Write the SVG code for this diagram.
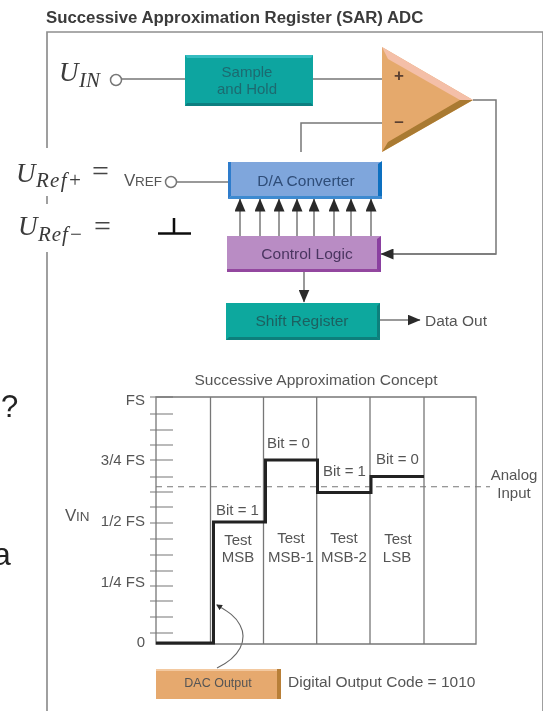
<svg xmlns="http://www.w3.org/2000/svg" width="546" height="711" viewBox="0 0 546 711">
<style>
text{font-family:"Liberation Sans",Arial,sans-serif;fill:#555;font-size:15px}
.t{text-anchor:middle}
.m{font-family:"Liberation Serif","Times New Roman",serif;font-style:italic;fill:#3a3a3a;font-size:27px}
.s{font-family:"Liberation Serif","Times New Roman",serif;font-style:italic;fill:#3a3a3a;font-size:21px}
.eq{font-family:"Liberation Serif",serif;fill:#444;font-size:30px}
.w{fill:none;stroke:#777;stroke-width:1.5}
.f{fill:none;stroke:#8f8f8f;stroke-width:1.7}
.g{fill:none;stroke:#777;stroke-width:1.3}
.k{fill:none;stroke:#222;stroke-width:3}
.tick{stroke:#777;stroke-width:1.2}
</style>
<defs>
<filter id="soft" x="0" y="0" width="100%" height="100%"><feGaussianBlur stdDeviation="0.45"/></filter>
<marker id="a" markerWidth="13" markerHeight="11" refX="12.500" refY="5.500" orient="auto" markerUnits="userSpaceOnUse"><path d="M0 0L13 5.500L0 11Z" fill="#2a2a2a"/></marker>
<marker id="b" markerWidth="6" markerHeight="6" refX="5" refY="3" orient="auto" markerUnits="userSpaceOnUse"><path d="M0 0L6 3L0 6Z" fill="#2a2a2a"/></marker>
</defs>
<rect width="546" height="711" fill="#fff"/>
<g filter="url(#soft)">
<text id="title" x="46" y="23" style="font-weight:bold;font-size:16.800px;fill:#3a3a3a">Successive Approximation Register (SAR) ADC</text>
<g id="frame"><path class="f" d="M47 148V32H543V711"/><path class="f" d="M47 196V204"/><path class="f" d="M47 252V711"/></g>
<g id="connectors">
<path class="w" d="M120 79H185M313 79H382M301 152V123H382M473 100H496V254H392"/>
<path class="w" d="M177 182H228"/>
<path class="w" d="M304 272V302" marker-end="url(#a)"/>
<path class="w" d="M380 320H420" marker-end="url(#a)"/>
<path class="w" d="M496 254H381" marker-end="url(#a)"/>
<path class="w" d="M240 236V199" marker-end="url(#a)"/><path class="w" d="M260 236V199" marker-end="url(#a)"/><path class="w" d="M279 236V199" marker-end="url(#a)"/><path class="w" d="M297 236V199" marker-end="url(#a)"/><path class="w" d="M314 236V199" marker-end="url(#a)"/><path class="w" d="M334 236V199" marker-end="url(#a)"/><path class="w" d="M351 236V199" marker-end="url(#a)"/><path class="w" d="M371 236V199" marker-end="url(#a)"/>
<path d="M217 668C240 657 248 640 240 625C235 615 225 610 217 605" fill="none" stroke="#666" stroke-width="1.1" marker-end="url(#b)"/>
</g>
<g id="uin"><circle cx="116" cy="80" r="5.500" fill="#fff" stroke="#777" stroke-width="1.5"/><text class="m" x="59" y="81">U</text><text class="s" x="79" y="87" textLength="21">IN</text></g>
<g id="sample"><rect x="185" y="55" width="128" height="51" fill="#0aa5a0"/><path d="M185 55h128l-2 3H187Z" fill="#35bcc0"/><path d="M185 106h128l-2-3H187Z" fill="#077f80"/><text class="t" x="247" y="77" style="fill:#1f6a70">Sample</text><text class="t" x="247" y="94" style="fill:#1f6a70">and Hold</text></g>
<g id="comparator"><path d="M382 47L473 100L382 152Z" fill="#e5a96c"/><path d="M382 47L473 100L460 100L388 59Z" fill="#f4bfa8"/><path d="M382 152L473 100L460 100L388 142Z" fill="#a97a30"/><text x="399" y="81" style="font-weight:bold;font-size:17px;fill:#5a4030" class="t">+</text><text x="399" y="127" style="font-weight:bold;font-size:17px;fill:#5a4030" class="t">–</text></g>
<g id="uref"><text class="m" x="16" y="182">U</text><text class="s" x="36" y="187" textLength="46">Ref+</text><text class="eq" x="92" y="181">=</text><text x="124" y="186" style="font-size:17px">V</text><text x="135" y="186" style="font-size:13.500px">REF</text><circle cx="171" cy="182" r="5.500" fill="#fff" stroke="#777" stroke-width="1.5"/></g>
<g id="urefm"><text class="m" x="18" y="235">U</text><text class="s" x="38" y="241" textLength="45">Ref−</text><text class="eq" x="94" y="236">=</text><path d="M158 233.500H191M174 233V218" stroke="#111" fill="none" stroke-width="2.500"/></g>
<g id="dac"><rect x="228" y="162" width="154" height="37" fill="#7fa6dc"/><path d="M228 162l3 0v34l-3 3Z" fill="#2f7ccc"/><path d="M378 164l4-3V199h-4Z" fill="#0a6fc0"/><path d="M228 199h154v-3H231Z" fill="#3c8ad0"/><text class="t" x="306" y="186" style="font-size:15.500px;fill:#2f4d78">D/A Converter</text></g>
<g id="logic"><rect x="227" y="236" width="154" height="36" fill="#b98cc4"/><path d="M377 239l4-3v36h-4Z" fill="#8a3fa0"/><path d="M227 272h154l-4-3H227Z" fill="#93479f"/><text class="t" x="307" y="259" style="font-size:15.500px;fill:#4a3560">Control Logic</text></g>
<g id="shift"><rect x="226" y="303" width="154" height="37" fill="#0aa89e"/><path d="M226 340h154l-3-3H229Z" fill="#077f7c"/><path d="M380 303v37l-3-3v-31Z" fill="#077f7c"/><text class="t" x="302" y="326" style="font-size:15.500px;fill:#1f6060">Shift Register</text></g>
<text id="dout" x="425" y="326" style="font-size:15.500px">Data Out</text>
<g id="chart">
<text class="t" x="316" y="385" style="font-size:15.500px">Successive Approximation Concept</text>
<path class="g" d="M156 397H476V644H156ZM210.500 397V644M263.500 397V644M316.700 397V644M370 397V644M424 397V644"/>
<path class="tick" d="M150 397H173M150 414H173M150 430H173M150 445H173M150 460H173M150 477H173M150 492H173M150 507H173M150 523H173M150 539H173M150 555H173M150 571H173M150 586H173M150 601H173M150 617H173M150 633H173"/>
<path d="M156 486.700H490" stroke="#777" stroke-width="1.1" stroke-dasharray="6 5" fill="none"/>
<path class="k" d="M156 643H213.500V522H265.500V460H317.500V492.500H371V476.500H424"/>
<g class="lab">
<text x="145" y="405" text-anchor="end">FS</text><text x="145" y="465" text-anchor="end">3/4 FS</text><text x="145" y="526" text-anchor="end">1/2 FS</text><text x="145" y="587" text-anchor="end">1/4 FS</text><text x="145" y="647" text-anchor="end">0</text>
<text x="65" y="521" style="font-size:17px">V</text><text x="76" y="521" style="font-size:13.500px">IN</text>
<text x="216" y="515">Bit = 1</text><text x="267" y="448">Bit = 0</text><text x="323" y="476">Bit = 1</text><text x="376" y="464">Bit = 0</text>
<text class="t" x="238" y="545">Test</text><text class="t" x="238" y="562">MSB</text>
<text class="t" x="291" y="543">Test</text><text class="t" x="291" y="562">MSB-1</text>
<text class="t" x="344" y="543">Test</text><text class="t" x="344" y="562">MSB-2</text>
<text class="t" x="398" y="544">Test</text><text class="t" x="397" y="562">LSB</text>
<text class="t" x="514" y="480">Analog</text><text class="t" x="514" y="498">Input</text>
</g>
</g>
<g id="dacout"><rect x="156" y="669" width="125" height="30" fill="#e6a96e"/><path d="M156 669h125v2H156Z" fill="#f3c9a0"/><path d="M277 669h4v30h-4Z" fill="#b87f38"/><text class="t" x="218" y="687" style="font-size:12.500px">DAC Output</text></g>
<text id="code" x="288" y="687" style="font-size:15.500px">Digital Output Code = 1010</text>
<text x="1" y="417" style="font-size:31px;fill:#222">?</text>
<text x="-7" y="565" style="font-size:32px;fill:#222">a</text>
</g>
</svg>
